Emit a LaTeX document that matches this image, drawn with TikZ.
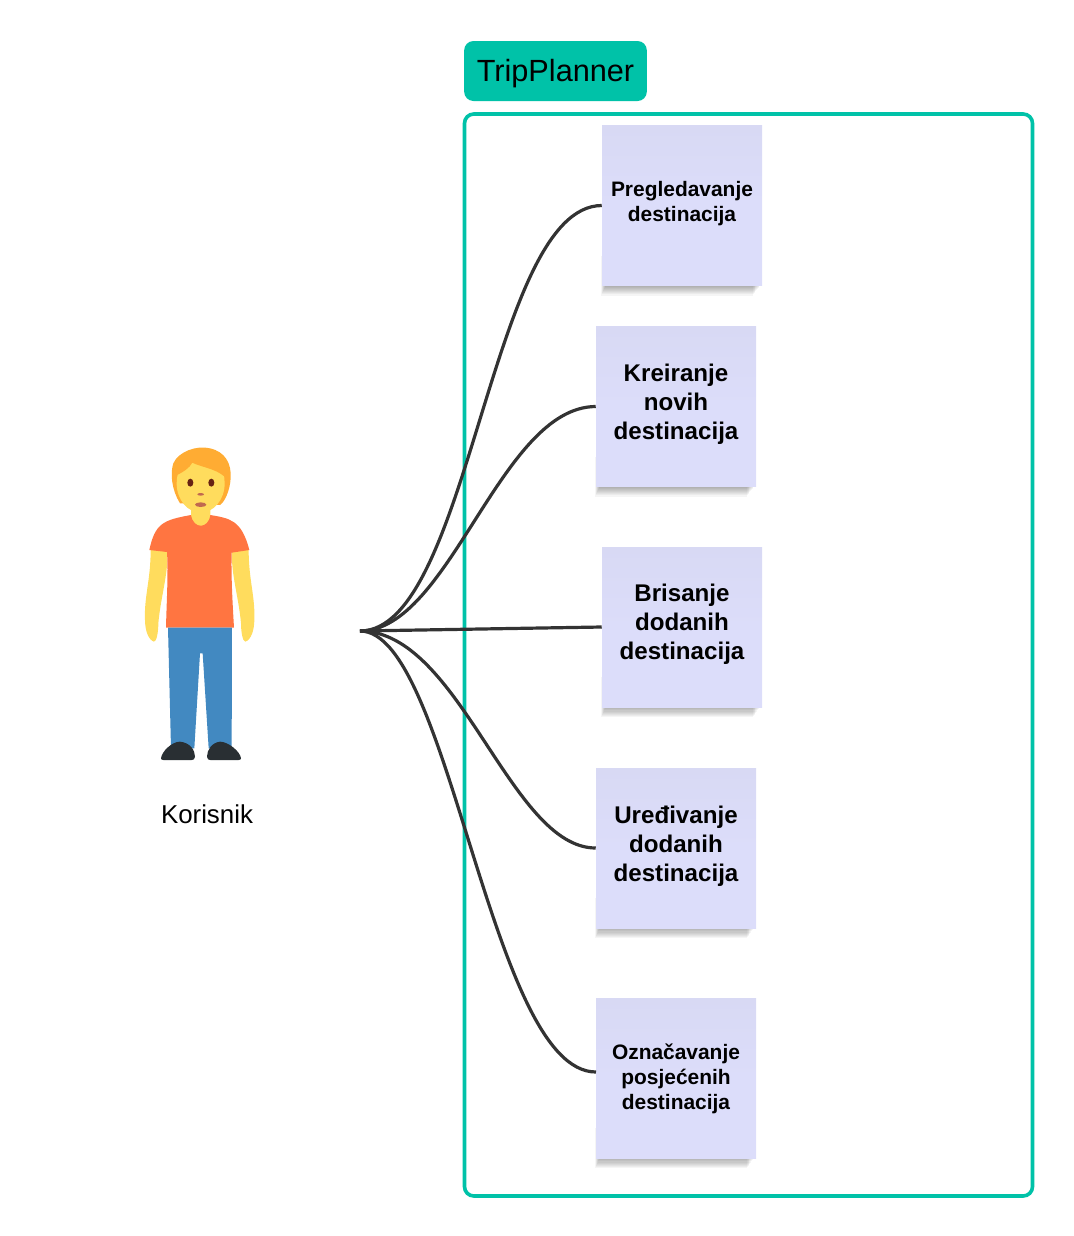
\documentclass[tikz,border=0pt]{standalone}
\usepackage{fontspec}
\setmainfont{Liberation Sans}
\definecolor{tpTeal}{HTML}{00C2A8}
\definecolor{tpNote}{HTML}{DCDDFA}
\definecolor{tpNoteTop}{HTML}{D8D9F4}
\definecolor{tpLine}{HTML}{333333}
\definecolor{tpHair}{HTML}{FFAC33}
\definecolor{tpSkin}{HTML}{FFDC5D}
\definecolor{tpShirt}{HTML}{FF7541}
\definecolor{tpPants}{HTML}{4289C1}
\definecolor{tpShoe}{HTML}{292F33}
\definecolor{tpEye}{HTML}{662113}
\definecolor{tpMouth}{HTML}{C1694F}
\tikzset{
 notebox/.style={minimum width=120pt,minimum height=120pt,inner sep=0pt,top color=tpNoteTop,bottom color=tpNote,middle color=tpNote},
 bigtext/.style={align=center,font=\fontsize{18.1}{21.75}\selectfont\bfseries},
 smalltext/.style={align=center,font=\fontsize{15.7}{18.75}\selectfont\bfseries},
 link/.style={tpLine,line width=2.4pt}
}
\begin{document}
\begin{tikzpicture}[x=0.75pt,y=-0.75pt]
\useasboundingbox (0,0) rectangle (1074,1236);
\node[draw=tpTeal,line width=2.7pt,rounded corners=7pt,minimum width=426pt,minimum height=811.5pt,inner sep=0pt] (frame) at (748.5,655) {};
\node[fill=tpTeal,rounded corners=7pt,minimum width=137pt,minimum height=45pt,inner sep=0pt,text height=17pt,text depth=2pt,font=\fontsize{23}{27}\selectfont] (title) at (555.5,71) {TripPlanner};
% sticky notes
\foreach \x/\y/\nm/\st/\dy/\txt in {
 682/205.5/n1/smalltext/-2/{Pregledavanje\\destinacija},
 676/406.5/n2/bigtext/-2/{Kreiranje\\novih\\destinacija},
 682/627/n3/bigtext/-3/{Brisanje\\dodanih\\destinacija},
 676/848/n4/bigtext/-2/{Uređivanje\\dodanih\\destinacija},
 676/1078/n5/smalltext/1/{Označavanje\\posjećenih\\destinacija}}{
 \foreach \s in {1,...,10}
  \fill[black,opacity=.04] (\x-76-\s*.5,\y+60-\s) rectangle (\x+79-\s*.8,\y+79+\s*1.1);
 \node[notebox] (\nm) at (\x,\y) {};
 \node[\st] (\nm text) at (\x,\y+\dy) {\txt};
}
\coordinate (hub) at (360,631);
\coordinate (end5) at (596,1072);
\draw[link] (hub) .. controls (470,631) and (490,206) .. (n1.west);
\draw[link] (hub) .. controls (450,631) and (500,407) .. (n2.west);
\draw[link] (hub) -- (n3.west);
\draw[link] (hub) .. controls (460,631) and (510,848) .. (n4.west);
\draw[link] (hub) .. controls (450,631) and (490,1072) .. (end5);
% person
\begin{scope}[shift={(130,440)},x=0.25pt,y=-0.25pt]
 \fill[tpHair] (150,190) .. controls (125,150) and (120,100) .. (130,70) .. controls (145,35) and (200,15) .. (240,25) .. controls (285,35) and (305,70) .. (302,115) .. controls (300,150) and (285,185) .. (270,195) -- cycle;
 \fill[tpSkin] (212,45) .. controls (260,45) and (284,85) .. (284,130) .. controls (284,180) and (250,218) .. (212,218) .. controls (174,218) and (140,180) .. (140,130) .. controls (140,85) and (164,45) .. (212,45) -- cycle;
 \fill[tpHair] (142,105) .. controls (160,95) and (178,85) .. (187,68) .. controls (215,82) and (255,85) .. (284,110) .. controls (285,70) and (250,35) .. (200,40) .. controls (160,45) and (140,70) .. (142,105) -- cycle;
 \fill[tpSkin] (183,200) -- (241,200) -- (241,240) .. controls (235,265) and (190,265) .. (183,240) -- cycle;
 \fill[tpSkin] (62,330) -- (112,330) .. controls (116,400) and (92,470) .. (85,550) .. controls (85,575) and (80,605) .. (72,605) .. controls (55,600) and (45,570) .. (45,540) .. controls (42,470) and (62,420) .. (62,330) -- cycle;
 \fill[tpSkin] (356,330) -- (306,330) .. controls (302,400) and (326,470) .. (333,550) .. controls (333,575) and (338,605) .. (346,605) .. controls (363,600) and (373,570) .. (373,540) .. controls (376,470) and (356,420) .. (356,330) -- cycle;
 \fill[tpShirt] (183,225) .. controls (190,268) and (235,268) .. (241,225) .. controls (300,235) and (335,240) .. (358,330) -- (305,338) .. controls (303,400) and (307,480) .. (312,563) -- (108,563) .. controls (110,480) and (115,400) .. (111,336) -- (58,330) .. controls (75,250) and (100,240) .. (183,225) -- cycle;
 \fill[tpPants] (114,563) -- (306,563) -- (305,925) -- (236,925) -- (218,640) -- (210,640) -- (193,925) -- (123,925) -- cycle;
 \fill[tpShoe] (93,955) .. controls (95,935) and (125,905) .. (150,905) .. controls (180,908) and (195,930) .. (195,950) .. controls (195,958) and (190,960) .. (185,960) -- (100,960) .. controls (95,960) and (93,958) .. (93,955) -- cycle;
 \fill[tpShoe] (333,955) .. controls (331,935) and (295,905) .. (270,905) .. controls (245,908) and (231,930) .. (231,950) .. controls (231,958) and (236,960) .. (241,960) -- (326,960) .. controls (331,960) and (333,958) .. (333,955) -- cycle;
 \fill[tpEye] (181,128) ellipse (9 and 12);
 \fill[tpEye] (244,128) ellipse (9 and 12);
 \fill[tpMouth] (212,163) ellipse (10 and 4);
 \fill[tpMouth] (212,194) ellipse (17 and 7);
\end{scope}
\node[font=\fontsize{19.4}{24}\selectfont] (user) at (207,814) {Korisnik};
\end{tikzpicture}
\end{document}
